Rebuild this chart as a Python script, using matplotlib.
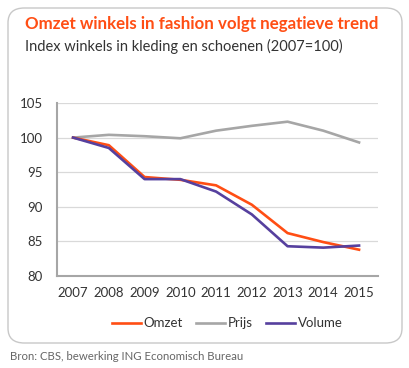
import matplotlib
matplotlib.use("Agg")
import matplotlib.pyplot as plt
from matplotlib.patches import FancyBboxPatch

years = [2007, 2008, 2009, 2010, 2011, 2012, 2013, 2014, 2015]
omzet = [100, 98.9, 94.3, 93.9, 93.1, 90.3, 86.2, 84.9, 83.8]
prijs = [100, 100.4, 100.2, 99.9, 101.0, 101.7, 102.3, 101.0, 99.3]
volume = [100, 98.5, 94.0, 94.0, 92.2, 88.9, 84.3, 84.1, 84.4]
yticks = [80, 85, 90, 95, 100, 105]

title = "Omzet winkels in fashion volgt negatieve trend"
subtitle = "Index winkels in kleding en schoenen (2007=100)"
source = "Bron: CBS, bewerking ING Economisch Bureau"

plt.rcParams['font.family'] = ['Lato', 'DejaVu Sans']

W, H = 409, 368
fig = plt.figure(figsize=(W / 100, H / 100), dpi=100)

# rounded frame
box = FancyBboxPatch((8 / W, 1 - 343 / H), (402 - 8) / W, (343 - 8) / H,
                     boxstyle="round,pad=0,rounding_size=0.04",
                     transform=fig.transFigure, facecolor="white",
                     edgecolor="#C8C8C8", linewidth=1.0, zorder=-5)
fig.patches.append(box)

fig.text(25 / W, 1 - 24 / H, title, color="#FF4E14", fontsize=12.2,
         fontweight="bold", va="center", ha="left")
fig.text(25 / W, 1 - 46 / H, subtitle, color="#333333", fontsize=10.5,
         va="center", ha="left")
fig.text(10 / W, 1 - 356 / H, source, color="#666666", fontsize=8.2,
         va="center", ha="left")

ax = fig.add_axes([57 / W, 1 - 276 / H, (378 - 57) / W, (276 - 103) / H])
ax.set_zorder(5)
ax.patch.set_alpha(0)
ax.plot(years, omzet, color="#FF4E14", lw=1.9, label="Omzet", zorder=3)
ax.plot(years, prijs, color="#A6A6A6", lw=1.9, label="Prijs", zorder=2)
ax.plot(years, volume, color="#56409E", lw=1.9, label="Volume", zorder=4)

ax.set_xlim(2006.55, 2015.53)
ax.set_ylim(80, 105)
ax.set_yticks(yticks)
ax.set_xticks(years)
ax.grid(axis="y", color="#D9D9D9", lw=0.9)
ax.set_axisbelow(True)
for s in ["top", "right"]:
    ax.spines[s].set_visible(False)
for s in ["left", "bottom"]:
    ax.spines[s].set_color("#A6A6A6")
    ax.spines[s].set_linewidth(1.5)
ax.tick_params(length=0, labelsize=9.5, labelcolor="#333333")
ax.tick_params(axis="y", pad=10)
ax.tick_params(axis="x", pad=8)

leg = ax.legend(loc="upper center", bbox_to_anchor=(0.53, -0.17), ncol=3,
                frameon=False, fontsize=9.5, handlelength=2.2,
                handletextpad=0.2, columnspacing=1.0)
for t in leg.get_texts():
    t.set_color("#333333")

fig.savefig("out.png", dpi=100)
